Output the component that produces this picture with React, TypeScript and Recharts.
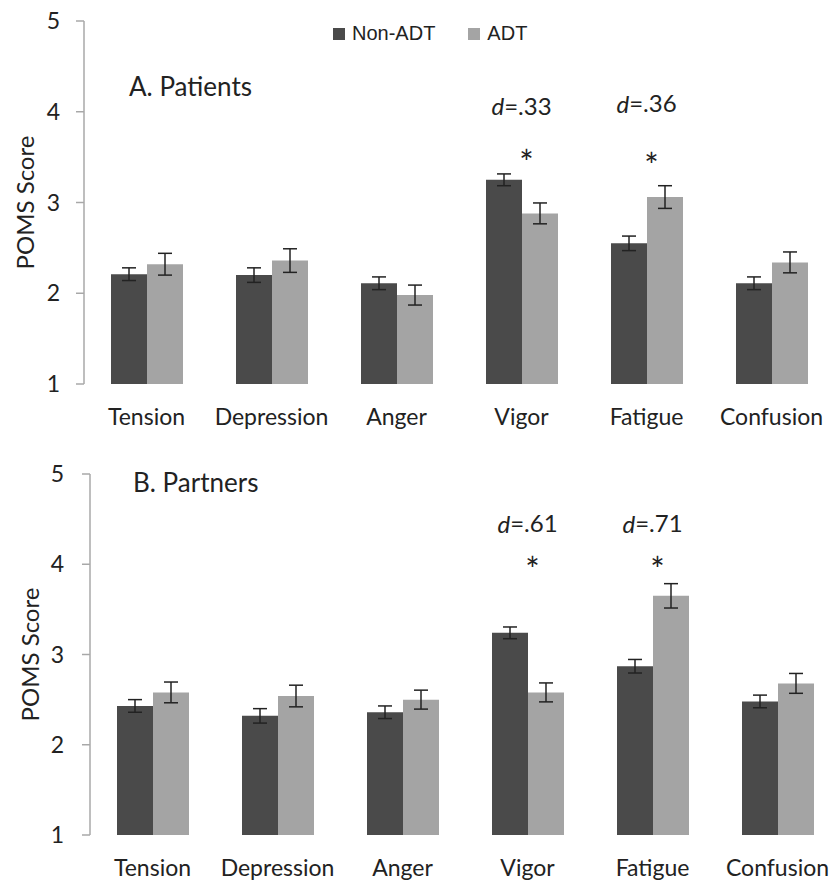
import { ComposedChart, Bar, XAxis, YAxis, ErrorBar, ReferenceDot, Legend } from 'recharts';

const categories = ['Tension', 'Depression', 'Anger', 'Vigor', 'Fatigue', 'Confusion'];
const seriesNames = ['Non-ADT', 'ADT'];

const patientsNonAdt = [2.21, 2.2, 2.11, 3.25, 2.55, 2.11];
const patientsNonAdtErr = [0.07, 0.08, 0.07, 0.065, 0.08, 0.07];
const patientsAdt = [2.32, 2.36, 1.98, 2.88, 3.06, 2.34];
const patientsAdtErr = [0.12, 0.13, 0.11, 0.115, 0.125, 0.115];

const partnersNonAdt = [2.43, 2.32, 2.36, 3.24, 2.87, 2.48];
const partnersNonAdtErr = [0.07, 0.08, 0.07, 0.065, 0.075, 0.07];
const partnersAdt = [2.58, 2.54, 2.5, 2.58, 3.65, 2.68];
const partnersAdtErr = [0.115, 0.12, 0.105, 0.105, 0.135, 0.11];

const yTicks = [1, 2, 3, 4, 5];
const bandEdges = [0, 1, 2, 3, 4, 5, 6];

// effect sizes shown above the significant pairs (score-scale heights)
const patientsEffects = [
  { category: 'Vigor', d: '.33', dAt: 4.07, starAt: 3.57 },
  { category: 'Fatigue', d: '.36', dAt: 4.1, starAt: 3.54 },
];
const partnersEffects = [
  { category: 'Vigor', d: '.61', dAt: 4.46, starAt: 4.08 },
  { category: 'Fatigue', d: '.71', dAt: 4.46, starAt: 4.08 },
];

const FONT = 'Lato, "Liberation Sans", sans-serif';
const DARK = '#4a4a4a';
const LIGHT = '#a4a4a4';
const AXIS = '#a8a8a8';
const INK = '#222';

function buildRows(non: number[], nonErr: number[], adt: number[], adtErr: number[]) {
  return categories.map((category, i) => ({
    category,
    nonAdt: non[i],
    nonAdtErr: nonErr[i],
    adt: adt[i],
    adtErr: adtErr[i],
  }));
}

const LegendBox = ({ payload }: any) => {
  const items = [...(payload || [])].sort((a: any, b: any) => seriesNames.indexOf(a.value) - seriesNames.indexOf(b.value));
  return (
    <div style={{ display: 'flex', alignItems: 'center', fontFamily: '"Liberation Sans", Arial, sans-serif', fontSize: 20, color: INK }}>
      {items.map((e: any, i: number) => (
        <span key={e.value} style={{ display: 'flex', alignItems: 'center', marginRight: i === 0 ? 33 : 0 }}>
          <span style={{ display: 'inline-block', width: 12, height: 12, background: e.color, marginRight: 7 }} />
          {e.value}
        </span>
      ))}
    </div>
  );
};

interface PanelProps {
  title: string;
  rows: ReturnType<typeof buildRows>;
  effects: { category: string; d: string; dAt: number; starAt: number }[];
  height: number;
  top: number;
  left: number;
  right: number;
  axisHeight: number;
  labelX: number;
  tickGap: number;
  titleX: number;
  titleY: number;
  showLegend?: boolean;
}

function Panel({ title, rows, effects, height, top, left, right, axisHeight, labelX, tickGap, titleX, titleY, showLegend }: PanelProps) {
  return (
    <div style={{ position: 'relative', width: 832, height }}>
      <ComposedChart
        width={832}
        height={height}
        data={rows}
        margin={{ top, right, bottom: 0, left: 0 }}
        barGap={0}
        barSize={36}
      >
        <XAxis
          xAxisId="edge"
          type="number"
          domain={[0, 6]}
          ticks={bandEdges}
          allowDataOverflow
          height={0}
          tick={false}
          tickSize={8}
          axisLine={{ stroke: AXIS, strokeWidth: 1.5 }}
          tickLine={{ stroke: AXIS, strokeWidth: 1.5 }}
        />
        <XAxis
          xAxisId="cat"
          dataKey="category"
          height={axisHeight}
          axisLine={false}
          tickLine={false}
          tickSize={0}
          tickMargin={25}
          interval={0}
          tick={{ fontSize: 23, fill: INK, fontFamily: FONT }}
        />
        <YAxis
          domain={[1, 5]}
          ticks={yTicks}
          interval={0}
          width={left}
          tickSize={8}
          tickMargin={tickGap}
          axisLine={{ stroke: AXIS, strokeWidth: 1.5 }}
          tickLine={{ stroke: AXIS, strokeWidth: 1.5 }}
          tick={{ fontSize: 23, fill: INK, fontFamily: FONT }}
          label={(p: any) => {
            const vb = p.viewBox || {};
            const cy = vb.y + vb.height / 2;
            return (
              <text
                x={labelX}
                y={cy}
                transform={`rotate(-90 ${labelX} ${cy})`}
                textAnchor="middle"
                dominantBaseline="central"
                fontSize={24}
                fill={INK}
                fontFamily={FONT}
              >
                POMS Score
              </text>
            );
          }}
        />
        {showLegend && (
          <Legend
            layout="horizontal"
            verticalAlign="middle"
            align="center"
            content={<LegendBox />}
            wrapperStyle={{ top: 22, left: 333, width: 'auto' }}
          />
        )}
        <Bar xAxisId="cat" dataKey="nonAdt" name="Non-ADT" fill={DARK} isAnimationActive={false}>
          <ErrorBar dataKey="nonAdtErr" width={7} stroke={INK} strokeWidth={1.5} direction="y" />
        </Bar>
        <Bar xAxisId="cat" dataKey="adt" name="ADT" fill={LIGHT} isAnimationActive={false}>
          <ErrorBar dataKey="adtErr" width={7} stroke={INK} strokeWidth={1.5} direction="y" />
        </Bar>
        {effects.map((e) => (
          <ReferenceDot
            key={`d-${e.category}`}
            xAxisId="cat"
            x={e.category}
            y={e.dAt}
            r={0}
            shape={(p: any) => (
              <text x={p.cx} y={p.cy} textAnchor="middle" dominantBaseline="central" fontSize={24} fill={INK} fontFamily={FONT}>
                <tspan fontStyle="italic">d</tspan>={e.d}
              </text>
            )}
          />
        ))}
        {effects.map((e) => (
          <ReferenceDot
            key={`s-${e.category}`}
            xAxisId="cat"
            x={e.category}
            y={e.starAt}
            r={0}
            shape={(p: any) => (
              <text x={p.cx + 5} y={p.cy + 11} textAnchor="middle" dominantBaseline="central" fontSize={34} fill={INK} fontFamily={FONT}>
                *
              </text>
            )}
          />
        ))}
      </ComposedChart>
      <div
        style={{
          position: 'absolute',
          left: titleX,
          top: titleY,
          fontFamily: FONT,
          fontSize: 26,
          color: INK,
          lineHeight: 1,
          whiteSpace: 'nowrap',
        }}
      >
        {title}
      </div>
    </div>
  );
}

export default function App() {
  const patients = buildRows(patientsNonAdt, patientsNonAdtErr, patientsAdt, patientsAdtErr);
  const partners = buildRows(partnersNonAdt, partnersNonAdtErr, partnersAdt, partnersAdtErr);
  return (
    <div style={{ position: 'absolute', left: 0, top: 0, width: 832, height: 882, background: '#fff' }}>
      <Panel
        title="A. Patients"
        rows={patients}
        effects={patientsEffects}
        height={440}
        top={21}
        left={84}
        right={-2}
        axisHeight={56}
        labelX={24}
        tickGap={16}
        titleX={129}
        titleY={73}
        showLegend
      />
      <Panel
        title="B. Partners"
        rows={partners}
        effects={partnersEffects}
        height={442}
        top={34}
        left={90}
        right={-8}
        axisHeight={47}
        labelX={29}
        tickGap={18}
        titleX={133}
        titleY={29}
      />
    </div>
  );
}
